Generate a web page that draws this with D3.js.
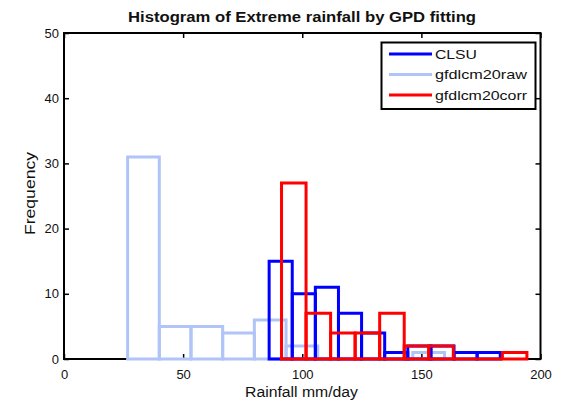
<!DOCTYPE html>
<html>
<head>
<meta charset="utf-8">
<script src="https://cdn.jsdelivr.net/npm/d3@7"></script>
<style>
  html, body { margin: 0; padding: 0; background: #fff; }
  svg { display: block; }
  text { font-family: "Liberation Sans", Arial, sans-serif; fill: #111; }
</style>
</head>
<body>
<svg id="chart" width="567" height="402"></svg>
<script>
// Histogram bins (bin edges in mm/day) and counts for each series
const seriesNames = ["CLSU", "gfdlcm20raw", "gfdlcm20corr"];

const clsuEdges  = [86.1, 95.8, 105.5, 115.2, 124.9, 134.6, 144.3, 154.0, 163.7, 173.4, 183.1];
const clsuCounts = [15, 10, 11, 7, 4, 1, 2, 2, 1, 1];

const rawEdges   = [26.7, 40.0, 53.3, 66.6, 79.9, 93.2, 106.5, 119.8, 133.1, 146.4, 159.7];
const rawCounts  = [31, 5, 5, 4, 6, 2, 0, 0, 0, 1];

const corrEdges  = [91.3, 101.6, 111.9, 122.2, 132.5, 142.8, 153.1, 163.4, 173.7, 184.0, 194.3];
const corrCounts = [27, 7, 4, 4, 7, 2, 2, 0, 0, 1];

const xTicks = [0, 50, 100, 150, 200];
const yTicks = [0, 10, 20, 30, 40, 50];

const colors = { "CLSU": "#0000ff", "gfdlcm20raw": "#b0c4f8", "gfdlcm20corr": "#ff0000" };

const series = [
  { name: "CLSU", edges: clsuEdges, counts: clsuCounts },
  { name: "gfdlcm20raw", edges: rawEdges, counts: rawCounts },
  { name: "gfdlcm20corr", edges: corrEdges, counts: corrCounts }
];

const svg = d3.select("#chart");
const plot = { left: 64, right: 540.5, top: 33, bottom: 359 };

const x = d3.scaleLinear().domain([0, 200]).range([plot.left, plot.right]);
const y = d3.scaleLinear().domain([0, 50]).range([plot.bottom, plot.top]);

// Title
svg.append("text")
  .attr("x", 302).attr("y", 22)
  .attr("text-anchor", "middle")
  .attr("font-size", 14).attr("font-weight", "bold")
  .attr("textLength", 348).attr("lengthAdjust", "spacingAndGlyphs")
  .text("Histogram of Extreme rainfall by GPD fitting");

// Axes with inward ticks on all four sides
function styleAxis(g) {
  g.select(".domain").remove();
  g.selectAll(".tick line").attr("stroke", "#000").attr("stroke-width", 1.5);
  g.selectAll(".tick text").attr("font-size", 13).attr("fill", "#111")
    .style("font-family", "'Liberation Sans', Arial, sans-serif");
}

svg.append("g")
  .attr("transform", `translate(0,${plot.bottom})`)
  .call(d3.axisBottom(x).tickValues(xTicks).tickFormat(d3.format("d")).tickSize(-5).tickSizeOuter(0).tickPadding(11))
  .call(styleAxis);

svg.append("g")
  .attr("transform", `translate(0,${plot.top})`)
  .call(d3.axisTop(x).tickValues(xTicks).tickFormat("").tickSize(-5).tickSizeOuter(0))
  .call(styleAxis);

svg.append("g")
  .attr("transform", `translate(${plot.left},0)`)
  .call(d3.axisLeft(y).tickValues(yTicks).tickFormat(d3.format("d")).tickSize(-5).tickSizeOuter(0).tickPadding(5))
  .call(styleAxis);

svg.append("g")
  .attr("transform", `translate(${plot.right},0)`)
  .call(d3.axisRight(y).tickValues(yTicks).tickFormat("").tickSize(-5).tickSizeOuter(0))
  .call(styleAxis);

// Plot frame
svg.append("rect")
  .attr("x", plot.left).attr("y", plot.top)
  .attr("width", plot.right - plot.left).attr("height", plot.bottom - plot.top)
  .attr("fill", "none").attr("stroke", "#000").attr("stroke-width", 2);

// Outlined histogram bars, drawn raw -> CLSU -> corr
const drawOrder = ["gfdlcm20raw", "CLSU", "gfdlcm20corr"];
drawOrder.forEach(name => {
  const s = series.find(d => d.name === name);
  const bins = s.counts.map((c, i) => ({ x0: s.edges[i], x1: s.edges[i + 1], count: c }));
  svg.append("g")
    .selectAll("path")
    .data(bins)
    .join("path")
    .attr("d", b => {
      const p = d3.path();
      p.moveTo(x(b.x0), y(0));
      p.lineTo(x(b.x0), y(b.count));
      p.lineTo(x(b.x1), y(b.count));
      p.lineTo(x(b.x1), y(0));
      p.closePath();
      return p.toString();
    })
    .attr("fill", "none")
    .attr("stroke", colors[name])
    .attr("stroke-width", 3)
    .attr("stroke-linejoin", "miter");
});

// Axis labels
svg.append("text")
  .attr("x", 301.5).attr("y", 397)
  .attr("text-anchor", "middle")
  .attr("font-size", 14)
  .attr("textLength", 113).attr("lengthAdjust", "spacingAndGlyphs")
  .text("Rainfall mm/day");

svg.append("text")
  .attr("transform", "translate(35,193.5) rotate(-90)")
  .attr("text-anchor", "middle")
  .attr("font-size", 14)
  .attr("textLength", 83).attr("lengthAdjust", "spacingAndGlyphs")
  .text("Frequency");

// Legend
const legend = svg.append("g");
legend.append("rect")
  .attr("x", 381.5).attr("y", 42.5).attr("width", 154).attr("height", 66.5)
  .attr("fill", "#fff").attr("stroke", "#000").attr("stroke-width", 2);

const legendWidths = { "CLSU": 42, "gfdlcm20raw": 92, "gfdlcm20corr": 92 };
seriesNames.forEach((name, i) => {
  const cy = 54 + i * 20.5;
  legend.append("line")
    .attr("x1", 389).attr("x2", 432).attr("y1", cy).attr("y2", cy)
    .attr("stroke", colors[name]).attr("stroke-width", 3);
  legend.append("text")
    .attr("x", 435).attr("y", cy + 4.5)
    .attr("font-size", 13)
    .attr("textLength", legendWidths[name]).attr("lengthAdjust", "spacingAndGlyphs")
    .text(name);
});
</script>
</body>
</html>
